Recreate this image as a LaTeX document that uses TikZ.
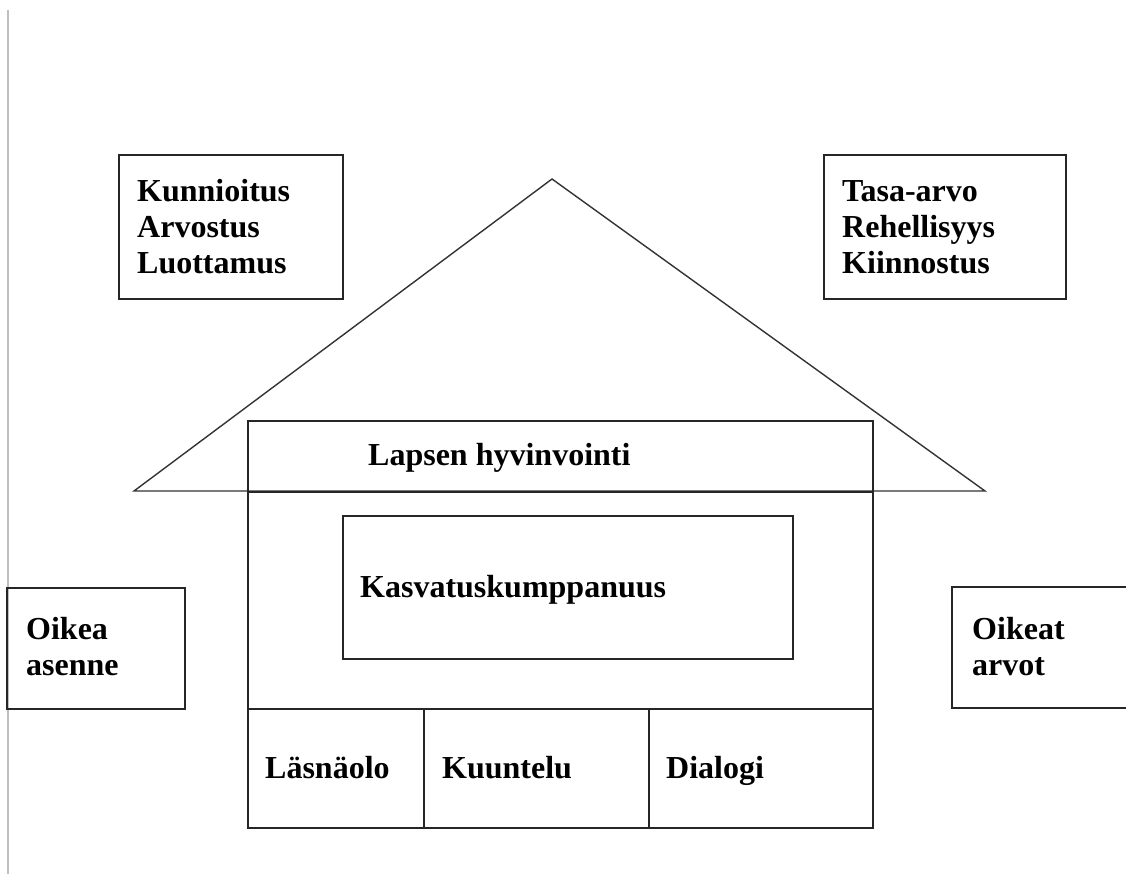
\documentclass[tikz,border=0pt]{standalone}
\usepackage{fontspec}
\setmainfont{Liberation Serif}
\begin{document}
\begin{tikzpicture}[x=1pt,y=-1pt,
  ln/.style={draw=black!85,line width=1.7pt},
  roof/.style={draw=black!80,line width=1.4pt,line join=miter},
  frame/.style={ln,rectangle,inner sep=0pt,anchor=north west},
  txt/.style={anchor=base west,inner sep=0pt,font=\bfseries\fontsize{32}{36}\selectfont}]
\useasboundingbox (0,0) rectangle (1126,874);
% gray page line
\coordinate (gtop) at (8,10);
\coordinate (gbot) at (8,874);
\draw[black!25,line width=1.5pt] (gtop) -- (gbot);
% roof
\coordinate (apex) at (552,179);
\coordinate (rl) at (134,491);
\coordinate (rr) at (985,491);
\draw[roof] (rl) -- (apex) -- (rr) -- cycle;
% top boxes
\node[frame,minimum width=224pt,minimum height=144pt] (kbox) at (118,154) {};
\node[frame,minimum width=242pt,minimum height=144pt] (tbox) at (823,154) {};
% house
\node[frame,minimum width=625pt,minimum height=71pt] (lbox) at (247,420) {};
\node[frame,minimum width=625pt,minimum height=217pt] (body) at (247,491) {};
\node[frame,minimum width=450pt,minimum height=143pt] (inner) at (342,515) {};
\node[frame,minimum width=176pt,minimum height=119pt] (b1) at (247,708) {};
\node[frame,minimum width=225pt,minimum height=119pt] (b2) at (423,708) {};
\node[frame,minimum width=224pt,minimum height=119pt] (b3) at (648,708) {};
% side boxes
\node[frame,minimum width=178pt,minimum height=121pt] (abox) at (6,587) {};
\coordinate (ot) at (1130,587);
\coordinate (ob) at (1130,708);
\coordinate (otl) at (952,587);
\coordinate (obl) at (952,708);
\draw[ln] (ot) -- (otl) -- (obl) -- (ob);
% texts
\node[txt] (k1) at (137,202) {Kunnioitus};
\node[txt] (k2) at (137,238) {Arvostus};
\node[txt] (k3) at (137,274) {Luottamus};
\node[txt] (t1) at (842,202) {Tasa-arvo};
\node[txt] (t2) at (842,238) {Rehellisyys};
\node[txt] (t3) at (842,274) {Kiinnostus};
\node[txt] (lt) at (368,465) {Lapsen hyvinvointi};
\node[txt] (kt) at (360,597) {Kasvatuskumppanuus};
\node[txt] (a1) at (26,639) {Oikea};
\node[txt] (a2) at (26,675) {asenne};
\node[txt] (o1) at (972,639) {Oikeat};
\node[txt] (o2) at (972,675) {arvot};
\node[txt] (s1) at (265,778) {Läsnäolo};
\node[txt] (s2) at (442,778) {Kuuntelu};
\node[txt] (s3) at (666,778) {Dialogi};
\end{tikzpicture}
\end{document}
